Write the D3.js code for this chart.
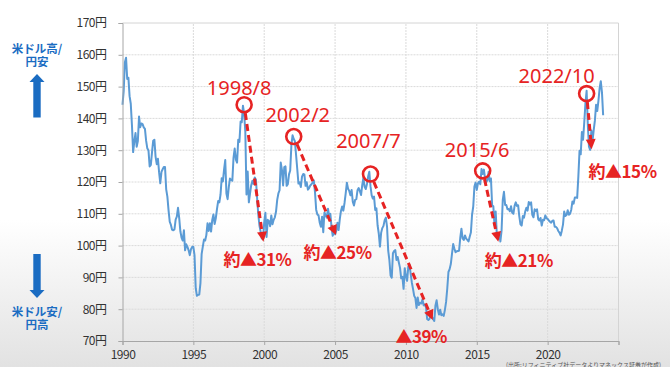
<!DOCTYPE html>
<html><head><meta charset="utf-8">
<script src="https://cdn.jsdelivr.net/npm/d3@7/dist/d3.min.js"></script>
<style>html,body{margin:0;padding:0;background:#fff;}svg{display:block}</style>
</head><body><svg id="c" width="670" height="367"></svg>
<script>
// ---- DATA ----
const startYear = 1990;
// USD/JPY month-end rates, Jan 1990 .. Dec 2023
const usdJpy = [
 144.3,148.6,157.6,159.1,152.4,152.8,147.0,144.6,137.9,129.4,132.8,135.4, // 1990
 131.1,132.9,140.6,137.2,138.4,138.2,137.2,136.7,133.0,130.6,129.9,124.9, // 1991
 125.4,129.4,133.0,133.3,128.0,125.6,127.3,123.0,119.6,123.2,124.0,124.7, // 1992
 124.7,117.7,115.4,111.1,107.5,106.5,105.0,104.8,105.1,108.2,109.1,111.9, // 1993
 108.7,104.5,102.5,101.6,104.8,98.5,100.4,99.6,98.5,97.0,98.9,99.6,       // 1994
 99.6,96.9,86.6,84.2,84.5,84.6,88.2,97.3,99.7,101.9,101.6,103.3,          // 1995
 107.0,104.6,107.0,104.4,108.1,109.8,106.8,108.6,111.5,114.0,113.6,116.0, // 1996
 121.2,120.2,123.9,126.9,116.4,114.6,118.4,121.1,120.6,120.4,127.6,130.5, // 1997
 127.0,126.1,133.3,132.6,139.0,138.8,144.0,141.5,135.8,116.1,123.3,113.6, // 1998
 116.4,119.0,120.4,119.4,121.4,120.7,114.8,109.7,106.2,104.3,102.2,102.2, // 1999
 107.3,110.3,102.7,108.1,107.7,106.1,109.5,106.7,108.1,108.9,110.7,114.4, // 2000
 116.4,117.4,126.1,123.8,118.9,124.7,124.9,118.8,119.3,122.4,123.6,131.5, // 2001
 134.7,133.5,132.8,128.4,124.0,119.5,119.9,118.4,121.7,122.5,122.4,118.8, // 2002
 119.9,117.6,118.1,118.9,119.3,119.8,120.5,116.8,111.3,109.8,109.5,107.2, // 2003
 105.9,109.1,104.2,110.4,109.6,108.8,111.6,109.3,110.0,105.8,103.1,104.1, // 2004
 103.6,104.6,107.2,104.9,108.3,110.9,112.3,111.0,113.4,116.4,119.8,117.9, // 2005
 117.2,115.8,117.5,113.8,112.6,114.4,114.6,117.4,118.1,117.1,115.9,119.0, // 2006
 121.4,118.5,117.8,119.4,121.7,123.2,118.7,115.8,114.8,115.4,111.2,111.7, // 2007
 106.4,103.8,99.7,104.0,105.5,106.2,108.0,108.8,106.0,98.4,95.4,90.6,     // 2008
 89.9,97.6,98.3,98.6,95.5,96.4,94.7,93.0,89.7,90.2,86.4,92.9,             // 2009
 90.2,88.9,93.4,94.0,91.2,88.4,86.4,84.2,83.5,80.4,83.7,81.3,             // 2010
 82.0,81.8,83.1,81.2,81.5,80.6,76.9,76.6,77.0,78.2,77.6,76.9,             // 2011
 76.3,81.2,82.8,80.0,78.3,79.8,78.1,78.4,77.9,79.8,82.3,86.5,             // 2012
 91.7,92.6,94.2,97.4,100.5,99.1,97.9,98.2,98.3,98.4,102.4,105.3,          // 2013
 102.3,101.8,103.2,102.2,101.8,101.3,102.8,104.1,109.7,112.3,118.6,119.8, // 2014
 117.5,119.6,120.1,119.3,124.1,122.5,123.9,121.2,119.9,120.6,123.2,120.2, // 2015
 121.1,112.7,112.4,106.5,110.7,103.2,102.1,103.4,101.3,104.8,114.4,116.9, // 2016
 112.8,112.8,111.4,111.5,110.8,112.4,110.3,110.0,112.5,113.6,112.5,112.7, // 2017
 109.2,106.7,106.3,109.3,108.8,110.7,111.9,111.0,113.7,112.9,113.6,109.7, // 2018
 108.9,111.4,110.9,111.4,108.3,107.9,108.7,106.3,108.1,108.0,109.5,108.6, // 2019
 108.4,107.9,107.5,107.2,107.8,107.9,105.9,105.9,105.5,104.6,104.1,103.2, // 2020
 104.7,106.6,110.7,109.3,109.6,111.1,109.7,110.0,111.3,113.9,113.2,115.1, // 2021
 115.1,115.0,121.7,129.8,128.7,135.7,133.3,138.7,144.7,148.7,138.1,131.1, // 2022
 130.1,136.2,132.9,136.3,139.3,144.3,142.3,145.5,149.4,151.7,148.2,141.0  // 2023
];
const yTicks = [70,80,90,100,110,120,130,140,150,160,170];
const xTicks = [1990,1995,2000,2005,2010,2015,2020];
const peakLabels = ['1998/8','2002/2','2007/7','2015/6','2022/10'];
const peakDates  = [1998+7/12, 2002+1/12, 2007+6/12, 2015+5/12, 2022+9/12];
const peakValues = [144.3, 134.3, 122.5, 123.5, 147.8];
const troughDates  = [1999.94, 2005.07, 2011.89, 2016.52, 2023.1];
const troughValues = [101.2, 103.3, 76.6, 101.2, 130.3];
const dropLabels = ['約▲31%','約▲25%','▲39%','約▲21%','約▲15%'];
const upLabel = ['米ドル高/','円安'];
const downLabel = ['米ドル安/','円高'];
const sourceNote = '(出所:リフィニティブ社データよりマネックス証券が作成)';

// ---- LAYOUT ----
const peakLabelOffset = [[-5,-9.7],[4,-14.7],[-2,-26],[-5.5,-14],[-30,-10.5]];
const dropLabelOffset = [[-6,24],[1.5,24],[-11.5,23],[20.5,25.5],[31,29]];

const svg = d3.select('#c');
const defs = svg.append('defs');
const g = defs.append('linearGradient').attr('id','bg')
  .attr('gradientUnits','userSpaceOnUse').attr('x1',0).attr('y1',0).attr('x2',0).attr('y2',367);
g.append('stop').attr('offset',0).attr('stop-color','#ffffff');
g.append('stop').attr('offset',0.6).attr('stop-color','#ffffff');
g.append('stop').attr('offset',1).attr('stop-color','#e2e2e2');
svg.append('rect').attr('width',670).attr('height',367).attr('fill','url(#bg)');

const x = d3.scaleLinear().domain([1990,2025]).range([122.5,618.5]);
const y = d3.scaleLinear().domain([70,170]).range([341,23]);

// gridlines
const grid = svg.append('g');
grid.selectAll('.hg').data(yTicks.slice(1,-1)).join('line')
  .attr('x1',x(1990)).attr('x2',x(2025)).attr('y1',d=>y(d)).attr('y2',d=>y(d))
  .attr('stroke','#dadada').attr('stroke-width',1).attr('stroke-dasharray','2,1');
grid.selectAll('.vg').data(xTicks.slice(1)).join('line')
  .attr('y1',y(70)).attr('y2',y(170)).attr('x1',d=>x(d)).attr('x2',d=>x(d))
  .attr('stroke','#dadada').attr('stroke-width',1).attr('stroke-dasharray','2,1');
grid.append('path')
  .attr('d',`M${x(1990)},${y(170)}H${x(2025)}V${y(70)}`)
  .attr('fill','none').attr('stroke','#d4d4d4').attr('stroke-width',1);

// line
const line = d3.line().x((d,i)=>x(startYear+i/12)).y(d=>y(d));
svg.append('path').datum(usdJpy).attr('d',line)
  .attr('fill','none').attr('stroke','#5b9bd5').attr('stroke-width',2).attr('stroke-linejoin','round');

// axes
const yAxis = svg.append('g').attr('transform',`translate(${x(1990)},0)`)
  .call(d3.axisLeft(y).tickValues(yTicks).tickSize(4).tickPadding(12).tickFormat(d=>d+'円'));
const xAxis = svg.append('g').attr('transform',`translate(0,${y(70)})`)
  .call(d3.axisBottom(x).tickValues(xTicks.concat([2025])).tickSize(4).tickPadding(5)
    .tickFormat(d=>d===2025?'':String(d)));
[yAxis,xAxis].forEach(a=>{
  a.select('.domain').attr('stroke','#a6a6a6');
  a.selectAll('.tick line').attr('stroke','#a6a6a6');
  a.selectAll('text').attr('fill','#333').style('font-family','"Noto Sans CJK JP","Noto Sans",sans-serif')
    .style('font-size','12px').style('letter-spacing','-0.5px');
});

// annotations
const red = '#e62323';
const R = 7.5;
const ann = svg.append('g');
peakDates.forEach((d,i)=>{
  const cx=x(d), cy=y(peakValues[i]);
  const tx=x(troughDates[i]), ty=y(troughValues[i]);
  const dx=tx-cx, dy=ty-cy, len=Math.hypot(dx,dy), ux=dx/len, uy=dy/len;
  const head=10, hw=5;
  const sx=cx+ux*(R+1), sy=cy+uy*(R+1);
  const ex=tx-ux*head, ey=ty-uy*head;
  ann.append('line').attr('x1',sx).attr('y1',sy).attr('x2',ex).attr('y2',ey)
    .attr('stroke',red).attr('stroke-width',3).attr('stroke-dasharray','7,4');
  ann.append('path')
    .attr('d',`M${tx},${ty}L${ex-uy*hw},${ey+ux*hw}L${ex+uy*hw},${ey-ux*hw}Z`)
    .attr('fill',red);
  ann.append('circle').attr('cx',cx).attr('cy',cy).attr('r',R)
    .attr('fill','none').attr('stroke',red).attr('stroke-width',2.6);
  ann.append('text').attr('x',cx+peakLabelOffset[i][0]).attr('y',cy+peakLabelOffset[i][1])
    .attr('text-anchor','middle').attr('fill',red)
    .style('font-family','"Noto Sans","Open Sans",sans-serif').style('font-size','20px')
    .text(peakLabels[i]);
  ann.append('text').attr('x',tx+dropLabelOffset[i][0]).attr('y',ty+dropLabelOffset[i][1])
    .attr('text-anchor','middle').attr('fill',red)
    .style('font-family','"Noto Sans CJK JP",sans-serif').style('font-weight','bold').style('font-size','17px')
    .style('letter-spacing','-0.5px')
    .text(dropLabels[i]);
});

// left blue labels and arrows
const blue = '#1a6cc2';
function twoLine(lines, y0){
  const t = svg.append('text').attr('fill',blue).attr('text-anchor','middle')
    .style('font-family','"Noto Sans CJK JP",sans-serif').style('font-weight','bold').style('font-size','11.5px');
  lines.forEach((s,i)=>t.append('tspan').attr('x',37).attr('y',y0+i*13.5).text(s));
}
twoLine(upLabel, 52.5);
twoLine(downLabel, 315.5);
svg.append('path').attr('fill',blue)
  .attr('d','M37,74L44.5,82H40.7V117.5H33.3V82H29.5Z');
svg.append('path').attr('fill',blue)
  .attr('d','M37,298L44.5,290H40.7V254H33.3V290H29.5Z');

// source note
svg.append('text').attr('x',506).attr('y',366.5).attr('fill','#555')
  .style('font-family','"Noto Sans CJK JP",sans-serif').style('font-size','6px')
  .text(sourceNote);
</script>
</body></html>
